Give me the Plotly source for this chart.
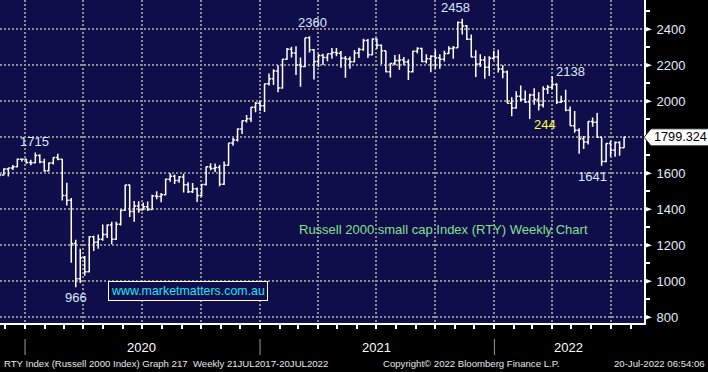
import pandas as pd
import plotly.graph_objects as go

# ---------------- data (weekly OHLC) ----------------
week_start = "2019-11-22"
opens = [
    1595, 1590, 1624, 1629, 1636, 1678,
    # 2020
    1677, 1660, 1658, 1699, 1662, 1614, 1656, 1687, 1678, 1476, 1450, 1210, 1014,
    1131, 1052, 1247, 1216, 1233, 1260, 1313, 1233, 1316, 1394, 1535, 1387, 1418,
    1396, 1413, 1399, 1474, 1470, 1480, 1567, 1583, 1559, 1579, 1536, 1497, 1513,
    1476, 1537, 1636, 1626, 1632, 1538, 1644, 1768, 1785, 1846, 1892, 1903, 1967,
    # 2021
    1988, 1975, 2097, 2124, 2168, 2073, 2233, 2289, 2267, 2201, 2192, 2352, 2285,
    2221, 2254, 2243, 2264, 2271, 2266, 2238, 2234, 2219, 2268, 2287, 2337, 2258,
    2345, 2311, 2280, 2163, 2209, 2226, 2229, 2218, 2164, 2277, 2292, 2220, 2236,
    2249, 2241, 2233, 2265, 2293, 2297, 2437, 2418, 2344, 2245, 2207, 2229, 2189,
    2239,
    # 2022
    2245, 2179, 2162, 1988, 1962, 2028, 2010, 1995, 2035, 2009, 1979, 2067, 2077,
    2092, 1994, 2000, 1950, 1864, 1839, 1792, 1773, 1887, 1883, 1800, 1665, 1765,
    1728, 1770, 1742,
]
highs = [
    1602, 1627, 1630, 1645, 1682, 1682,
    1680, 1675, 1715, 1705, 1680, 1660, 1689, 1708, 1680, 1547, 1462, 1230, 1180,
    1140, 1250, 1253, 1260, 1315, 1315, 1330, 1330, 1397, 1536, 1537, 1445, 1444,
    1437, 1443, 1480, 1500, 1490, 1570, 1600, 1593, 1584, 1597, 1550, 1545, 1520,
    1540, 1637, 1655, 1654, 1645, 1665, 1768, 1796, 1848, 1893, 1923, 1968, 1996,
    2002, 2097, 2154, 2177, 2200, 2234, 2295, 2302, 2305, 2243, 2352, 2360, 2290,
    2262, 2264, 2264, 2295, 2296, 2279, 2251, 2248, 2284, 2297, 2347, 2345, 2350,
    2350, 2315, 2280, 2214, 2257, 2260, 2245, 2233, 2280, 2300, 2297, 2260, 2255,
    2285, 2260, 2280, 2305, 2307, 2442, 2458, 2423, 2370, 2283, 2260, 2250, 2250,
    2280,
    2286, 2199, 2170, 2022, 2055, 2087, 2060, 2041, 2072, 2050, 2083, 2090, 2138,
    2100, 2030, 2063, 1970, 1945, 1850, 1806, 1888, 1910, 1935, 1800, 1766, 1780,
    1776, 1778, 1804,
]
lows = [
    1573, 1588, 1582, 1618, 1633, 1665,
    1652, 1644, 1655, 1655, 1608, 1610, 1648, 1672, 1449, 1420, 1102, 966, 990,
    1030, 1050, 1168, 1180, 1225, 1240, 1206, 1231, 1310, 1392, 1357, 1330, 1380,
    1395, 1390, 1398, 1455, 1439, 1478, 1552, 1540, 1547, 1493, 1490, 1490, 1440,
    1470, 1532, 1617, 1607, 1528, 1535, 1643, 1752, 1776, 1818, 1881, 1884, 1938,
    1945, 1940, 2087, 2090, 2050, 2070, 2230, 2243, 2146, 2080, 2189, 2270, 2121,
    2190, 2201, 2222, 2235, 2249, 2186, 2130, 2180, 2216, 2240, 2280, 2240, 2255,
    2290, 2207, 2161, 2132, 2200, 2174, 2200, 2117, 2160, 2265, 2218, 2210, 2161,
    2180, 2180, 2220, 2262, 2236, 2296, 2370, 2340, 2244, 2135, 2190, 2125, 2140,
    2230,
    2160, 2128, 1988, 1916, 1960, 2000, 1990, 1901, 1980, 1948, 1965, 2040, 2068,
    1985, 1990, 1944, 1864, 1825, 1708, 1735, 1760, 1858, 1800, 1641, 1661, 1693,
    1691, 1697, 1740,
]
closes = [
    1590, 1624, 1629, 1636, 1678, 1677,
    1660, 1658, 1699, 1662, 1614, 1656, 1687, 1678, 1476, 1450, 1210, 1014, 1131,
    1052, 1247, 1216, 1233, 1260, 1313, 1233, 1316, 1394, 1535, 1387, 1418, 1396,
    1413, 1399, 1474, 1470, 1480, 1567, 1583, 1559, 1579, 1536, 1497, 1513, 1476,
    1537, 1636, 1626, 1632, 1538, 1644, 1768, 1785, 1846, 1892, 1903, 1967, 1988,
    1975, 2097, 2124, 2168, 2073, 2233, 2289, 2267, 2201, 2192, 2352, 2285, 2221,
    2254, 2243, 2264, 2271, 2266, 2238, 2234, 2219, 2268, 2287, 2337, 2258, 2345,
    2311, 2280, 2163, 2209, 2226, 2229, 2218, 2164, 2277, 2292, 2220, 2236, 2249,
    2241, 2233, 2265, 2293, 2297, 2437, 2418, 2344, 2245, 2207, 2229, 2189, 2239,
    2245,
    2179, 2162, 1988, 1962, 2028, 2010, 1995, 2035, 2009, 1979, 2067, 2077, 2092,
    1994, 2000, 1950, 1864, 1839, 1792, 1773, 1887, 1883, 1800, 1665, 1765, 1728,
    1770, 1742, 1799.324,
]
weeks = pd.date_range(week_start, periods=len(closes), freq="W-FRI")
last_value = 1799.324

y_ticks = [800, 1000, 1200, 1400, 1600, 1800, 2000, 2200, 2400]
y_tick_text = ["800", "1000", "1200", "1400", "1600", "", "2000", "2200", "2400"]
year_labels = ["2020", "2021", "2022"]
year_label_dates = ["2020-07-01", "2021-07-02", "2022-04-27"]
year_starts = ["2020-01-01", "2021-01-01", "2022-01-01"]

# point labels: (date, value position, text, colour)
point_labels = [
    ("2020-01-15", 1774, "1715", "#dce8ff"),
    ("2020-03-20", 907, "966", "#dce8ff"),
    ("2021-03-23", 2435, "2360", "#dce8ff"),
    ("2021-11-01", 2518, "2458", "#dce8ff"),
    ("2022-04-30", 2163, "2138", "#dce8ff"),
    ("2022-03-21", 1868, "244", "#ffff33"),
    ("2022-06-03", 1579, "1641", "#dce8ff"),
]

# ---------------- layout constants ----------------
W, H = 708, 372
ML, MR, MT, MB = 0, 64, 0, 49
PW, PH = W - ML - MR, H - MT - MB
NAVY = "#0f0d4a"
FONT = "Liberation Sans, Arial, sans-serif"


def px_x(p):
    return (p - ML) / PW


def px_y(p):
    return (MT + PH - p) / PH


Y_MIN, Y_MAX = 768, 2562
unit_per_px = (Y_MAX - Y_MIN) / PH

fig = go.Figure()
fig.add_trace(go.Ohlc(
    x=weeks, open=opens, high=highs, low=lows, close=closes,
    increasing=dict(line=dict(color="white", width=1.5)),
    decreasing=dict(line=dict(color="white", width=1.5)),
    tickwidth=0.42, showlegend=False, hoverinfo="skip",
))

shapes = []
# triangle markers at major y ticks
for v in y_ticks:
    h = 3 * unit_per_px
    shapes.append(dict(type="path", xref="paper", yref="y",
                       path=f"M 1,{v - h} L {1 + 8 / PW},{v} L 1,{v + h} Z",
                       fillcolor="white", line=dict(color="white", width=0)))
# last value pointed box
hh = 8.5 * unit_per_px
x1 = 1 + 7 / PW
x2 = 1 + (MR + 2) / PW
shapes.append(dict(type="path", xref="paper", yref="y",
                   path=(f"M 1,{last_value} L {x1},{last_value + hh} L {x2},{last_value + hh} "
                         f"L {x2},{last_value - hh} L {x1},{last_value - hh} Z"),
                   fillcolor="white", line=dict(color="#222222", width=1)))
# year separator lines in the bottom band
for d in year_starts:
    shapes.append(dict(type="line", xref="x", yref="paper", x0=d, x1=d,
                       y0=px_y(339), y1=px_y(355), line=dict(color="#9a9a9a", width=1)))

annotations = []
for d, v, t, c in point_labels:
    annotations.append(dict(x=d, y=v, xref="x", yref="y", text=t, showarrow=False,
                            font=dict(family=FONT, size=13, color=c)))
annotations.append(dict(x=1, xshift=8, y=last_value, xref="paper", yref="y",
                        xanchor="left", text="1799.324", showarrow=False,
                        font=dict(family=FONT, size=12.7, color="black")))
annotations.append(dict(x=px_x(297), y=px_y(229), xref="paper", yref="paper",
                        xanchor="left", yanchor="middle",
                        text="Russell 2000 small cap Index (RTY) Weekly Chart", showarrow=False,
                        font=dict(family=FONT, size=13, color="#84e08e")))
annotations.append(dict(x=px_x(108), y=px_y(291), xref="paper", yref="paper",
                        xanchor="left", yanchor="middle",
                        text="www.marketmatters.com.au", showarrow=False,
                        bordercolor="white", borderwidth=1, borderpad=2, bgcolor=NAVY,
                        font=dict(family=FONT, size=12.4, color="#22e4f4")))
for t, d in zip(year_labels, year_label_dates):
    annotations.append(dict(x=d, y=px_y(347), xref="x", yref="paper", yanchor="middle",
                            text=t, showarrow=False,
                            font=dict(family=FONT, size=13, color="white")))
footer = [
    (2, "RTY Index (Russell 2000 Index) Graph 217  Weekly 21JUL2017-20JUL2022"),
    (381, "Copyright© 2022 Bloomberg Finance L.P."),
    (612, "20-Jul-2022 06:54:06"),
]
for xp, t in footer:
    annotations.append(dict(x=px_x(xp), y=px_y(363), xref="paper", yref="paper",
                            xanchor="left", yanchor="middle", text=t, showarrow=False,
                            font=dict(family=FONT, size=9.6, color="#e6e6e6")))

fig.update_layout(
    width=W, height=H,
    margin=dict(l=ML, r=MR, t=MT, b=MB, pad=0),
    paper_bgcolor="black", plot_bgcolor=NAVY,
    showlegend=False,
    shapes=shapes, annotations=annotations,
    xaxis=dict(
        type="date", range=["2019-11-23", "2022-08-22"],
        rangeslider=dict(visible=False),
        tick0="2020-01-01", dtick="M3", showticklabels=False,
        ticks="outside", ticklen=4, tickwidth=1.5, tickcolor="white",
        showgrid=True, gridcolor="#8e8e8e", gridwidth=2, griddash="2px,2px",
        showline=True, linecolor="white", linewidth=2,
        minor=dict(dtick="M1", tick0="2020-01-01", ticks="outside", ticklen=4,
                   tickwidth=1.5, tickcolor="white", showgrid=False),
        zeroline=False, fixedrange=True,
    ),
    yaxis=dict(
        side="right", range=[Y_MIN, Y_MAX],
        tickvals=y_ticks, ticktext=y_tick_text,
        ticks="", ticklabelstandoff=8,
        tickfont=dict(family=FONT, size=13, color="#e4ecff"),
        showgrid=True, gridcolor="#8e8e8e", gridwidth=2, griddash="2px,2px",
        showline=True, linecolor="white", linewidth=2,
        minor=dict(tickvals=list(range(900, 2600, 200)), ticks="outside", ticklen=4,
                   tickwidth=1.5, tickcolor="white", showgrid=False),
        zeroline=False, fixedrange=True,
    ),
)

fig.write_html("out.html")
